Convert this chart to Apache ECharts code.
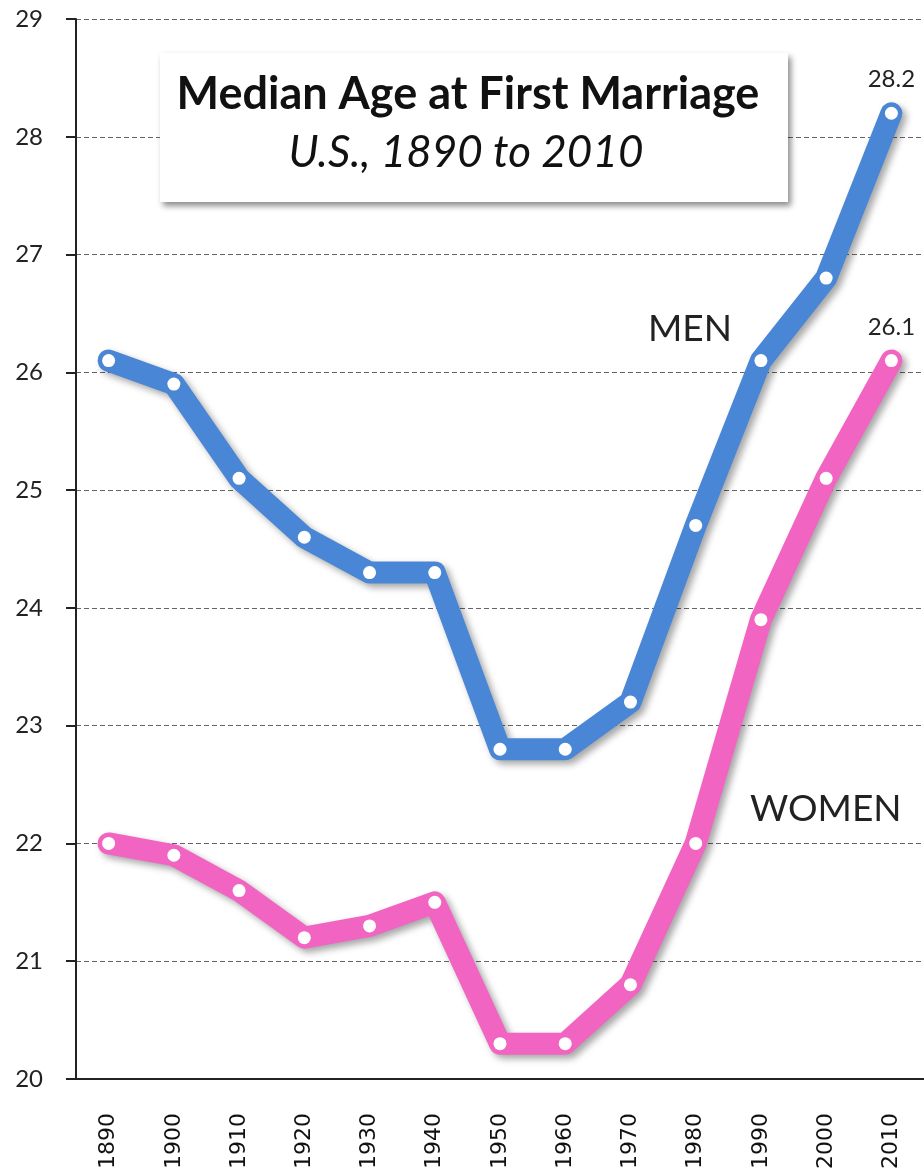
<!DOCTYPE html>
<html>
<head>
<meta charset="utf-8">
<script src="https://cdn.jsdelivr.net/npm/echarts@6/dist/echarts.min.js"></script>
<style>
html,body{margin:0;padding:0;background:#fff;}
#chart{width:924px;height:1174px;}
</style>
</head>
<body>
<div id="chart"></div>
<script>
var years = ['1890','1900','1910','1920','1930','1940','1950','1960','1970','1980','1990','2000','2010'];
var men = [26.1, 25.9, 25.1, 24.6, 24.3, 24.3, 22.8, 22.8, 23.2, 24.7, 26.1, 26.8, 28.2];
var women = [22.0, 21.9, 21.6, 21.2, 21.3, 21.5, 20.3, 20.3, 20.8, 22.0, 23.9, 25.1, 26.1];

// only the last point gets a value label
function withEndLabel(arr) {
	return arr.map(function (v, i) {
		if (i == arr.length - 1) {
			return {
				value: v,
				label: {
					show: true, position: 'top', distance: 15,
					fontFamily: 'Lato', fontSize: 24, color: '#222',
					formatter: function (p) { return p.value.toFixed(1); }
				}
			};
		}
		return v;
	});
}

function lineStyle(color) {
	return {
		color: color, width: 22, cap: 'round', join: 'round',
		shadowColor: 'rgba(0,0,0,0.35)', shadowBlur: 7, shadowOffsetX: 4, shadowOffsetY: 4
	};
}

var myChart = echarts.init(document.getElementById('chart'));
var option = {
	animation: false,
	backgroundColor: '#fff',
	grid: { left: 76, right: 0, top: 19, bottom: 95 },
	xAxis: {
		type: 'category',
		data: years,
		boundaryGap: true,
		axisLine: { lineStyle: { color: '#222', width: 2 } },
		axisTick: { alignWithLabel: true, length: 8, lineStyle: { color: '#222', width: 2 } },
		axisLabel: { rotate: 90, fontFamily: 'DejaVu Sans', fontSize: 22, color: '#111', margin: 34 }
	},
	yAxis: {
		type: 'value',
		min: 20, max: 29, interval: 1,
		axisLine: { show: true, lineStyle: { color: '#222', width: 2 } },
		axisTick: { show: true, length: 10, lineStyle: { color: '#222', width: 2 } },
		axisLabel: { fontFamily: 'Lato', fontSize: 24, color: '#222', margin: 33 },
		splitLine: { show: true, lineStyle: { color: '#666', type: [5, 3], width: 1 } }
	},
	series: [
		{
			name: 'MEN', type: 'line', data: withEndLabel(men),
			symbol: 'circle', symbolSize: 13, showSymbol: true,
			itemStyle: { color: '#fff' },
			lineStyle: lineStyle('#4a86d6'),
			z: 3
		},
		{
			name: 'WOMEN', type: 'line', data: withEndLabel(women),
			symbol: 'circle', symbolSize: 13, showSymbol: true,
			itemStyle: { color: '#fff' },
			lineStyle: lineStyle('#f264c2'),
			z: 2
		}
	],
	graphic: [
		{
			type: 'rect', z: 50,
			shape: { x: 160, y: 53, width: 628, height: 149 },
			style: { fill: '#fff', shadowColor: 'rgba(0,0,0,0.45)', shadowBlur: 6, shadowOffsetX: 3, shadowOffsetY: 4 }
		},
		{
			type: 'text', z: 51,
			style: { x: 468, y: 94, align: 'center', verticalAlign: 'middle',
				text: 'Median Age at First Marriage', fontFamily: 'Lato', fontWeight: 'bold', fontSize: 45, fill: '#111' }
		},
		{
			type: 'text', z: 51,
			style: { x: 466, y: 153, align: 'center', verticalAlign: 'middle',
				text: 'U.S., 1890 to 2010', fontFamily: 'Lato', fontStyle: 'italic', fontSize: 44, fill: '#111' }
		},
		{
			type: 'text', z: 51,
			style: { x: 648, y: 329, verticalAlign: 'middle',
				text: 'MEN', fontFamily: 'Lato', fontSize: 37, fill: '#222' }
		},
		{
			type: 'text', z: 51,
			style: { x: 750, y: 809, verticalAlign: 'middle',
				text: 'WOMEN', fontFamily: 'Lato', fontSize: 37, fill: '#222' }
		}
	]
};
myChart.setOption(option);
</script>
</body>
</html>
